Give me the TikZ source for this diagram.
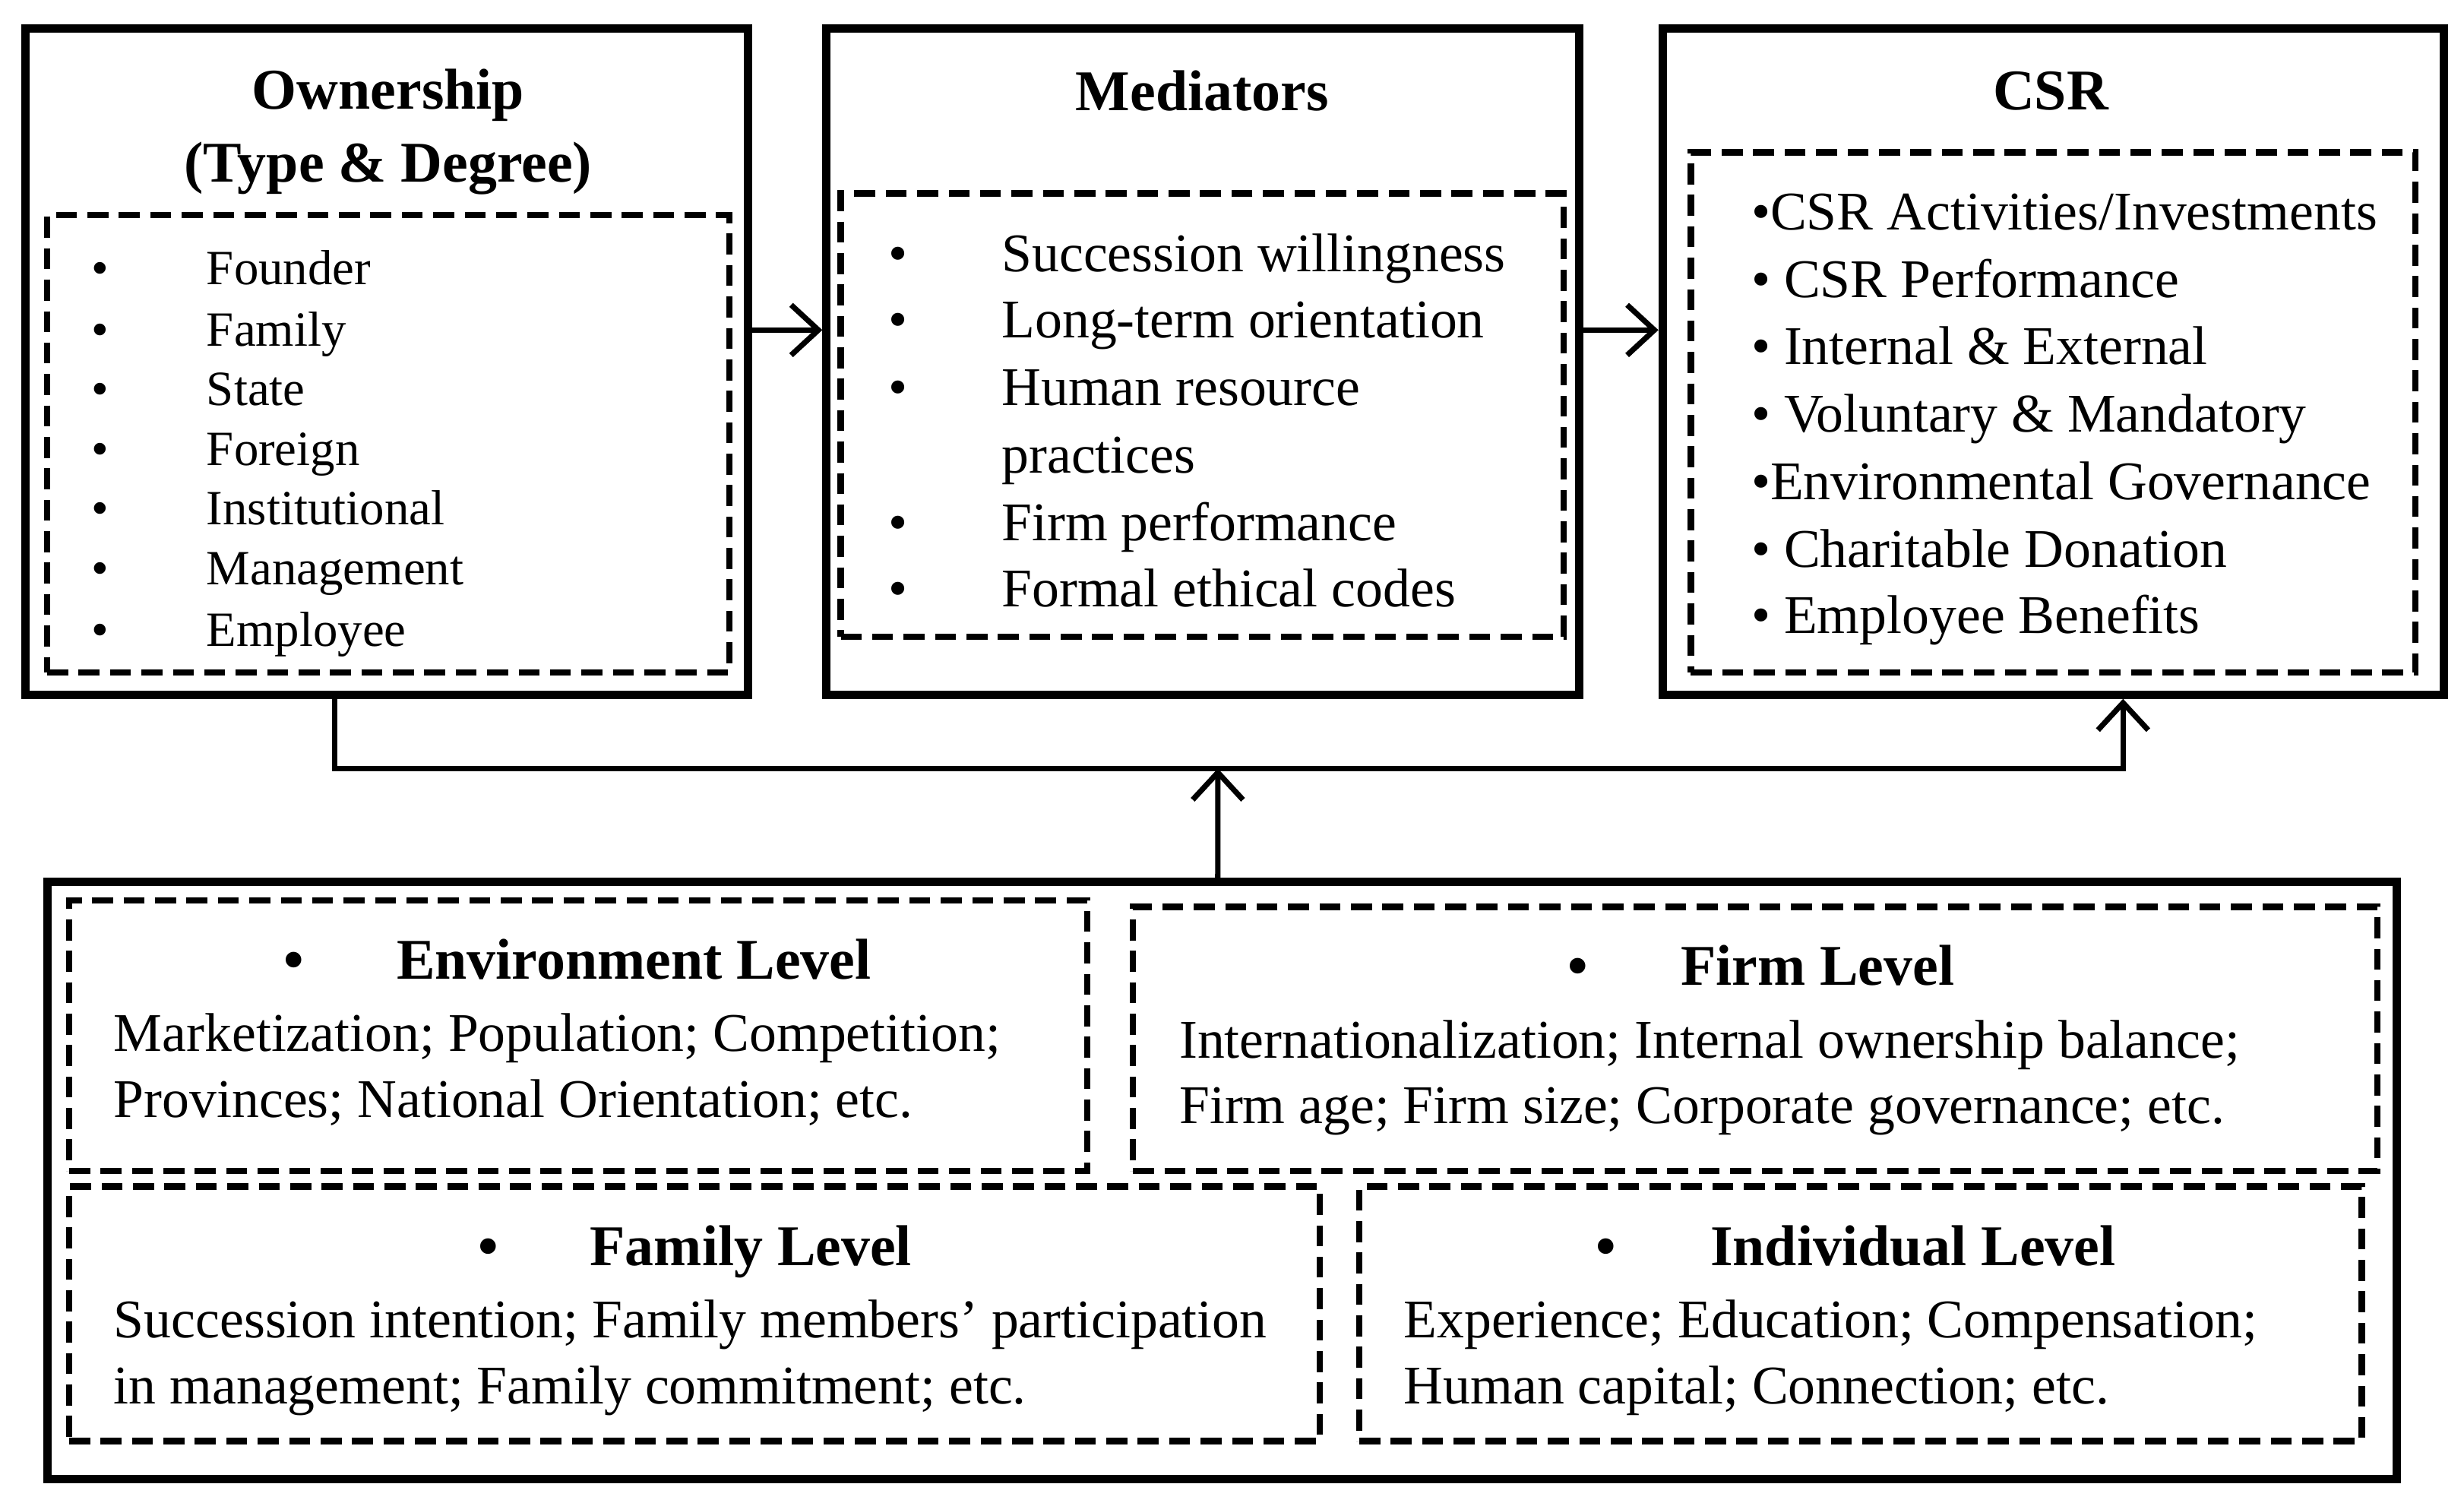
\documentclass[tikz,border=0pt]{standalone}
\usepackage{fontspec}
\setmainfont{Liberation Serif}
\usetikzlibrary{arrows.meta}

\tikzset{every picture/.style={line width=0.75pt}}
\tikzset{
  outerbox/.style={draw, line width=4pt, inner sep=0pt},
  dashbox/.style={draw, line width=3pt, dash pattern=on 10pt off 5pt, inner sep=0pt},
  flow/.style={line width=2.6pt, -{Straight Barb[length=13pt,width=24pt,line width=2.6pt]}},
  headtxt/.style={inner sep=0pt, align=center, font=\fontsize{27.5}{35}\bfseries\selectfont},
  leveltxt/.style={anchor=mid west, yshift=-6pt, inner sep=0pt, font=\fontsize{27.5}{32}\bfseries\selectfont},
  owntxt/.style={anchor=mid west, yshift=-6pt, inner sep=0pt, font=\fontsize{23.5}{28}\selectfont},
  bodytxt/.style={anchor=mid west, yshift=-6pt, inner sep=0pt, font=\fontsize{26}{32}\selectfont}
}

\begin{document}
\begin{tikzpicture}[x=0.75pt,y=0.75pt,yscale=-1,xscale=1]
\path[use as bounding box] (0,0) rectangle (1568,956);

%Shape: Rectangle 
\node[outerbox, minimum width=345pt, minimum height=318pt] (own) at (246,230) {};
%Shape: Rectangle 
\node[outerbox, minimum width=359.25pt, minimum height=318pt] (med) at (765.5,230) {};
%Shape: Rectangle 
\node[outerbox, minimum width=372.75pt, minimum height=318pt] (csr) at (1306.5,230) {};
%Shape: Rectangle 
\node[dashbox, minimum width=325.5pt, minimum height=218.25pt] (ownlist) at (247,282.5) {};
%Shape: Rectangle 
\node[dashbox, minimum width=345pt, minimum height=211.5pt] (medlist) at (765,264) {};
%Shape: Rectangle 
\node[dashbox, minimum width=345.75pt, minimum height=248.25pt] (csrlist) at (1306.5,262.5) {};
%Shape: Rectangle 
\node[outerbox, minimum width=1121.25pt, minimum height=285pt] (levels) at (777.5,751) {};
%Shape: Rectangle 
\node[dashbox, minimum width=486pt, minimum height=129pt] (envbox) at (368,659) {};
%Shape: Rectangle 
\node[dashbox, minimum width=594pt, minimum height=126pt] (firmbox) at (1117,661) {};
%Shape: Rectangle 
\node[dashbox, minimum width=597pt, minimum height=121.5pt] (fambox) at (442,836) {};
%Shape: Rectangle 
\node[dashbox, minimum width=478.5pt, minimum height=121.5pt] (indbox) at (1184,836) {};

\coordinate (join) at (775,489);

%Straight Lines 
\draw[flow] ([yshift=-15pt]own.east) -- ([yshift=-15pt]med.west);
%Straight Lines 
\draw[flow] ([yshift=-15pt]med.east) -- ([yshift=-15pt]csr.west);
%Straight Lines 
\draw[flow] ([xshift=-24.75pt]own.south) |- (join) -| ([xshift=33.4pt]csr.south);
%Straight Lines 
\draw[flow] ([xshift=-1.9pt]levels.north) -- (join);

% Text Node
\node[headtxt] (owntitle) at (247,84) {Ownership\\(Type \& Degree)};
% Text Node
\node[headtxt] (medtitle) at (765,58) {Mediators};
% Text Node
\node[headtxt] (csrtitle) at (1305,58) {CSR};

% Text Node
\node[owntxt] (ob1) at (58,170) {•};
\node[owntxt] (ot1) at (131,170) {Founder};
\node[owntxt] (ob2) at (58,209) {•};
\node[owntxt] (ot2) at (131,209) {Family};
\node[owntxt] (ob3) at (58,247) {•};
\node[owntxt] (ot3) at (131,247) {State};
\node[owntxt] (ob4) at (58,285) {•};
\node[owntxt] (ot4) at (131,285) {Foreign};
\node[owntxt] (ob5) at (58,323) {•};
\node[owntxt] (ot5) at (131,323) {Institutional};
\node[owntxt] (ob6) at (58,361) {•};
\node[owntxt] (ot6) at (131,361) {Management};
\node[owntxt] (ob7) at (58,400) {•};
\node[owntxt] (ot7) at (131,400) {Employee};

% Text Node
\node[bodytxt] (mb1) at (565,162) {•};
\node[bodytxt] (mt1) at (637,162) {Succession willingness};
\node[bodytxt] (mb2) at (565,204) {•};
\node[bodytxt] (mt2) at (637,204) {Long-term orientation};
\node[bodytxt] (mb3) at (565,247) {•};
\node[bodytxt] (mt3) at (637,247) {Human resource};
\node[bodytxt] (mt3b) at (637,290) {practices};
\node[bodytxt] (mb4) at (565,333) {•};
\node[bodytxt] (mt4) at (637,333) {Firm performance};
\node[bodytxt] (mb5) at (565,375) {•};
\node[bodytxt] (mt5) at (637,375) {Formal ethical codes};

% Text Node
\node[bodytxt] (ct1) at (1114,135) {•CSR Activities/Investments};
\node[bodytxt] (ct2) at (1114,178) {• CSR Performance};
\node[bodytxt] (ct3) at (1114,221) {• Internal \& External};
\node[bodytxt] (ct4) at (1114,264) {• Voluntary \& Mandatory};
\node[bodytxt] (ct5) at (1114,307) {•Environmental Governance};
\node[bodytxt] (ct6) at (1114,350) {• Charitable Donation};
\node[bodytxt] (ct7) at (1114,392) {• Employee Benefits};

% Text Node
\node[leveltxt] (envdot) at (180,612) {•};
\node[leveltxt] (envhead) at (252,612) {Environment Level};
\node[bodytxt] (envl1) at (72,658) {Marketization; Population; Competition;};
\node[bodytxt] (envl2) at (72,700) {Provinces; National Orientation; etc.};

% Text Node
\node[leveltxt] (firmdot) at (997,616) {•};
\node[leveltxt] (firmhead) at (1069,616) {Firm Level};
\node[bodytxt] (firml1) at (750,662) {Internationalization; Internal ownership balance;};
\node[bodytxt] (firml2) at (750,704) {Firm age; Firm size; Corporate governance; etc.};

% Text Node
\node[leveltxt] (famdot) at (304,794) {•};
\node[leveltxt] (famhead) at (375,794) {Family Level};
\node[bodytxt] (faml1) at (72,840) {Succession intention; Family members’ participation};
\node[bodytxt] (faml2) at (72,882) {in management; Family commitment; etc.};

% Text Node
\node[leveltxt] (inddot) at (1015,794) {•};
\node[leveltxt] (indhead) at (1088,794) {Individual Level};
\node[bodytxt] (indl1) at (893,840) {Experience; Education; Compensation;};
\node[bodytxt] (indl2) at (893,882) {Human capital; Connection; etc.};

\end{tikzpicture}
\end{document}
